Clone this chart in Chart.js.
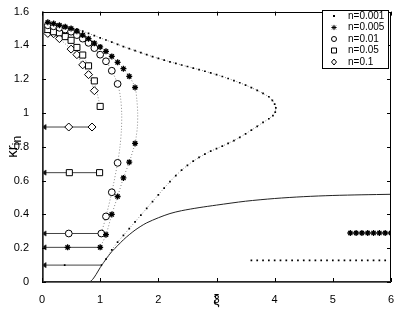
<!DOCTYPE html>
<html>
<head>
<meta charset="utf-8">
<script src="https://cdn.jsdelivr.net/npm/chart.js@4.4.1/dist/chart.umd.min.js"></script>
<style>
  html, body { margin: 0; padding: 0; background: #fff; }
  #wrap { width: 399px; height: 311px; position: relative; }
</style>
</head>
<body>
<div id="wrap"><canvas id="plot"></canvas></div>
<script>
// axis ticks
const xiTicks = [0, 1, 2, 3, 4, 5, 6];
const krTicks = [0, 0.2, 0.4, 0.6, 0.8, 1, 1.2, 1.4, 1.6];
const seriesNames = ['n=0.001', 'n=0.005', 'n=0.01', 'n=0.05', 'n=0.1'];

// n=0.001 : upper branch, nose and lower branch (dots)
const n001Xi = [0.1, 0.2, 0.3, 0.4, 0.5, 0.6, 0.7, 0.8, 0.9, 1.0, 1.1, 1.2, 1.3, 1.4, 1.5, 1.6, 1.7, 1.8, 1.9, 2.0,
  2.1, 2.2, 2.3, 2.4, 2.5, 2.6, 2.7, 2.8, 2.9, 3.0, 3.1, 3.2, 3.3, 3.4, 3.5, 3.6, 3.7, 3.8, 3.9, 3.96, 4.0, 4.02,
  4.01, 3.97, 3.9, 3.8, 3.7, 3.6, 3.5, 3.4, 3.3, 3.2, 3.1, 3.0, 2.9, 2.8, 2.7, 2.6, 2.5, 2.4, 2.3, 2.2, 2.1, 2.0,
  1.9, 1.8, 1.7, 1.6, 1.5, 1.4, 1.3, 1.2, 1.1, 1.02];
const n001Kr = [1.540, 1.533, 1.526, 1.517, 1.507, 1.496, 1.484, 1.471, 1.458, 1.445, 1.432, 1.419, 1.406, 1.393, 1.381, 1.369, 1.357, 1.345, 1.334, 1.323,
  1.313, 1.303, 1.294, 1.284, 1.275, 1.266, 1.257, 1.247, 1.237, 1.227, 1.216, 1.204, 1.192, 1.179, 1.165, 1.150, 1.134, 1.116, 1.096, 1.075, 1.052, 1.030,
  1.005, 0.985, 0.966, 0.944, 0.921, 0.899, 0.877, 0.856, 0.837, 0.820, 0.804, 0.789, 0.774, 0.757, 0.737, 0.715, 0.690, 0.662, 0.630, 0.594, 0.556, 0.516,
  0.476, 0.436, 0.396, 0.356, 0.316, 0.276, 0.236, 0.19, 0.135, 0.100];
const n001TailXi = [3.6, 3.7, 3.8, 3.9, 4.0, 4.1, 4.2, 4.3, 4.4, 4.5, 4.6, 4.7, 4.8, 4.9, 5.0, 5.1, 5.2, 5.3, 5.4, 5.5, 5.6, 5.7, 5.8, 5.9, 6.0];
const n001TailKr = [0.128, 0.128, 0.128, 0.128, 0.128, 0.128, 0.128, 0.128, 0.128, 0.128, 0.128, 0.128, 0.128, 0.128, 0.128, 0.128, 0.128, 0.128, 0.128, 0.128, 0.128, 0.128, 0.128, 0.128, 0.128];

// n=0.005 (asterisks)
const n005UpXi = [0.1, 0.2, 0.3, 0.4, 0.5, 0.6, 0.7, 0.8, 0.9, 1.0, 1.1, 1.2, 1.3, 1.4, 1.5, 1.6];
const n005UpKr = [1.537, 1.529, 1.519, 1.510, 1.500, 1.484, 1.461, 1.440, 1.413, 1.391, 1.365, 1.335, 1.300, 1.262, 1.217, 1.151];
const n005NoseXi = [1.63, 1.645, 1.64, 1.62];
const n005NoseKr = [1.08, 1.0, 0.92, 0.86];
const n005LowXi = [1.6, 1.5, 1.4, 1.3, 1.2, 1.1];
const n005LowKr = [0.82, 0.709, 0.616, 0.506, 0.40, 0.28];
const n005TailXi = [5.3, 5.4, 5.5, 5.6, 5.7, 5.8, 5.9, 6.0];
const n005TailKr = [0.29, 0.29, 0.29, 0.29, 0.29, 0.29, 0.29, 0.29];

// n=0.01 (circles)
const n01UpXi = [0.1, 0.2, 0.3, 0.4, 0.5, 0.6, 0.7, 0.8, 0.9, 1.0, 1.1, 1.2, 1.3];
const n01UpKr = [1.519, 1.513, 1.504, 1.494, 1.481, 1.461, 1.440, 1.415, 1.384, 1.345, 1.306, 1.250, 1.172];
const n01NoseXi = [1.35, 1.37, 1.365, 1.34];
const n01NoseKr = [1.09, 1.0, 0.9, 0.8];
const n01LowXi = [1.3, 1.2, 1.1];
const n01LowKr = [0.705, 0.531, 0.388];

// n=0.05 (squares)
const n05Xi = [0.1, 0.2, 0.3, 0.4, 0.5, 0.6, 0.7, 0.8, 0.9, 1.0];
const n05Kr = [1.494, 1.481, 1.475, 1.452, 1.430, 1.388, 1.343, 1.279, 1.190, 1.039];

// n=0.1 (diamonds)
const n1Xi = [0.1, 0.2, 0.3, 0.5, 0.6, 0.7, 0.8, 0.9];
const n1Kr = [1.471, 1.469, 1.440, 1.378, 1.345, 1.285, 1.227, 1.132];

// horizontal arrows back to xi=0: level, marker positions (mid, end)
const arrowKr = [0.100, 0.205, 0.287, 0.647, 0.917];
const arrowMidXi = [0.39, 0.44, 0.46, 0.47, 0.46];
const arrowEndXi = [1.0, 1.0, 1.02, 0.99, 0.86];

// solid curve
const solidXi = [0.82, 0.87, 0.93, 1.0, 1.1, 1.2, 1.3, 1.4, 1.5, 1.6, 1.7, 1.8, 2.0, 2.2, 2.4, 2.7, 3.0, 3.5, 4.0, 4.5, 5.0, 5.5, 6.0];
const solidKr = [0, 0.015, 0.045, 0.085, 0.135, 0.18, 0.215, 0.25, 0.28, 0.307, 0.33, 0.35, 0.38, 0.405, 0.422, 0.44, 0.455, 0.478, 0.494, 0.505, 0.512, 0.516, 0.519];

function pts(xs, ys) { return xs.map((x, i) => ({ x: x, y: ys[i] })); }

const DOT = '#8a8a8a';
const datasets = [];

datasets.push({ data: pts(solidXi, solidKr), showLine: true, borderColor: '#222', borderWidth: 1, pointRadius: 0, tension: 0.3, order: 5 });

// dotted curves
datasets.push({ data: pts(n001Xi, n001Kr), showLine: true, borderColor: DOT, borderWidth: 1, borderDash: [1, 2],
  pointStyle: 'rect', pointRadius: 1.2, pointBackgroundColor: '#000', pointBorderWidth: 0, order: 4 });
datasets.push({ data: pts(n005UpXi.concat(n005NoseXi, n005LowXi, [arrowEndXi[1]]), n005UpKr.concat(n005NoseKr, n005LowKr, [arrowKr[1]])),
  showLine: true, borderColor: DOT, borderWidth: 1, borderDash: [1, 2], pointRadius: 0, tension: 0.3, order: 4 });
datasets.push({ data: pts(n01UpXi.concat(n01NoseXi, n01LowXi, [arrowEndXi[2]]), n01UpKr.concat(n01NoseKr, n01LowKr, [arrowKr[2]])),
  showLine: true, borderColor: DOT, borderWidth: 1, borderDash: [1, 2], pointRadius: 0, tension: 0.3, order: 4 });
datasets.push({ data: pts(n05Xi, n05Kr), showLine: true, borderColor: DOT, borderWidth: 1, borderDash: [1, 2], pointRadius: 0, order: 4 });
datasets.push({ data: pts(n1Xi, n1Kr), showLine: true, borderColor: DOT, borderWidth: 1, borderDash: [1, 2], pointRadius: 0, order: 4 });

// arrows
arrowKr.forEach((k, i) => {
  datasets.push({ data: [{ x: arrowEndXi[i], y: k }, { x: 0, y: k }], showLine: true, borderColor: '#444', borderWidth: 1, pointRadius: 0, order: 3 });
});
datasets.push({ data: arrowKr.map(k => ({ x: 0.045, y: k })), pointStyle: 'triangle', rotation: 270, pointRadius: 3,
  pointBackgroundColor: '#111', pointBorderColor: '#111', pointBorderWidth: 0.5, order: 2 });

// markers
datasets.push({ data: pts([arrowMidXi[0]].concat(n001TailXi), [arrowKr[0]].concat(n001TailKr)), pointStyle: 'rect', pointRadius: 1.2,
  pointBackgroundColor: '#000', pointBorderWidth: 0, order: 1 });
datasets.push({ data: pts(n005UpXi.concat(n005LowXi, [arrowMidXi[1], arrowEndXi[1]], n005TailXi),
  n005UpKr.concat(n005LowKr, [arrowKr[1], arrowKr[1]], n005TailKr)),
  pointStyle: 'star', pointRadius: 3, pointBorderColor: '#000', pointBorderWidth: 1.3, order: 1 });
datasets.push({ data: pts(n01UpXi.concat(n01LowXi, [arrowMidXi[2], arrowEndXi[2]]), n01UpKr.concat(n01LowKr, [arrowKr[2], arrowKr[2]])),
  pointStyle: 'circle', pointRadius: 3.4, pointBackgroundColor: '#fff', pointBorderColor: '#000', pointBorderWidth: 1, order: 1 });
datasets.push({ data: pts(n05Xi.concat([arrowMidXi[3], arrowEndXi[3]]), n05Kr.concat([arrowKr[3], arrowKr[3]])),
  pointStyle: 'rect', pointRadius: 4.3, pointBackgroundColor: '#fff', pointBorderColor: '#000', pointBorderWidth: 1, order: 1 });
datasets.push({ data: pts(n1Xi.concat([arrowMidXi[4], arrowEndXi[4]]), n1Kr.concat([arrowKr[4], arrowKr[4]])),
  pointStyle: 'rectRot', pointRadius: 4, pointBackgroundColor: '#fff', pointBorderColor: '#000', pointBorderWidth: 1, order: 1 });

const FONT = '"Liberation Sans", Arial, sans-serif';

function marker(ctx, style, x, y) {
  ctx.save();
  ctx.strokeStyle = '#000'; ctx.fillStyle = '#000'; ctx.lineWidth = 1;
  ctx.beginPath();
  if (style === 0) { ctx.fillRect(x - 1, y - 1, 2, 2); }
  else if (style === 1) {
    const r = 2.6;
    for (let a = 0; a < 4; a++) {
      const t = a * Math.PI / 4;
      ctx.moveTo(x - Math.cos(t) * r, y - Math.sin(t) * r);
      ctx.lineTo(x + Math.cos(t) * r, y + Math.sin(t) * r);
    }
    ctx.stroke();
  } else if (style === 2) { ctx.arc(x, y, 2.5, 0, Math.PI * 2); ctx.stroke(); }
  else if (style === 3) { ctx.rect(x - 2.5, y - 2.5, 5, 5); ctx.stroke(); }
  else { ctx.moveTo(x, y - 3); ctx.lineTo(x + 2.5, y); ctx.lineTo(x, y + 3); ctx.lineTo(x - 2.5, y); ctx.closePath(); ctx.stroke(); }
  ctx.restore();
}

const framePlugin = {
  id: 'frame',
  afterDraw(chart) {
    const ctx = chart.ctx, a = chart.chartArea;
    const sx = chart.scales.x, sy = chart.scales.y;
    ctx.save();
    ctx.setTransform(1, 0, 0, 1, 0, 0);
    ctx.strokeStyle = '#000'; ctx.lineWidth = 1;
    ctx.strokeRect(Math.round(a.left) + 0.5, Math.round(a.top) + 0.5, Math.round(a.right - a.left) - 1, Math.round(a.bottom - a.top) - 1);
    // heavier left and bottom axes
    ctx.beginPath();
    ctx.moveTo(a.left, a.bottom); ctx.lineTo(a.right, a.bottom);
    ctx.moveTo(a.left + 1, a.top); ctx.lineTo(a.left + 1, a.bottom);
    ctx.lineWidth = 1.5; ctx.strokeStyle = '#333';
    ctx.stroke();
    ctx.lineWidth = 1; ctx.strokeStyle = '#000';
    ctx.beginPath();
    xiTicks.forEach(v => {
      const px = Math.round(sx.getPixelForValue(v)) + 0.5;
      ctx.moveTo(px, a.bottom); ctx.lineTo(px, a.bottom - 4);
      ctx.moveTo(px, a.top); ctx.lineTo(px, a.top + 4);
    });
    krTicks.forEach(v => {
      const py = Math.round(sy.getPixelForValue(v)) + 0.5;
      ctx.moveTo(a.left, py); ctx.lineTo(a.left + 4, py);
      ctx.moveTo(a.right, py); ctx.lineTo(a.right - 4, py);
    });
    ctx.stroke();

    // axis titles
    ctx.fillStyle = '#000';
    ctx.font = '14px ' + FONT;
    ctx.textAlign = 'center'; ctx.textBaseline = 'middle';
    ctx.fillText('ξ', (a.left + a.right) / 2, 301);

    // y title: κr with subscript "in", rotated
    const cy = (a.top + a.bottom) / 2;
    ctx.font = '15px ' + FONT;
    const w1 = ctx.measureText('κr').width;
    ctx.font = '12px ' + FONT;
    const w2 = ctx.measureText('in').width;
    const start = -(w1 + w2) / 2;
    ctx.setTransform(0, -1, 1, 0, 17, cy);
    ctx.textAlign = 'left'; ctx.textBaseline = 'alphabetic';
    ctx.font = '15px ' + FONT;
    ctx.fillText('κr', start, 0);
    ctx.font = '12px ' + FONT;
    ctx.fillText('in', start + w1, 4);
    ctx.setTransform(1, 0, 0, 1, 0, 0);

    // legend
    const lx = 322, ly = 10, lw = 66, lh = 58;
    ctx.fillStyle = '#fff';
    ctx.fillRect(lx, ly, lw, lh);
    ctx.strokeStyle = '#000';
    ctx.strokeRect(lx + 0.5, ly + 0.5, lw, lh);
    ctx.font = '10px ' + FONT;
    ctx.textAlign = 'left'; ctx.textBaseline = 'middle';
    seriesNames.forEach((name, i) => {
      const y = 16 + i * 11.5;
      marker(ctx, i, 334, y);
      ctx.fillStyle = '#000';
      ctx.fillText(name, 348, y);
    });
    ctx.restore();
  }
};

new Chart(document.getElementById('plot'), {
  type: 'scatter',
  data: { datasets: datasets },
  options: {
    responsive: true,
    maintainAspectRatio: false,
    animation: false,
    events: [],
    layout: { padding: { top: 7, right: 8, left: 0, bottom: 0 } },
    plugins: { legend: { display: false }, tooltip: { enabled: false } },
    scales: {
      x: {
        type: 'linear', min: 0, max: 6,
        afterBuildTicks: s => { s.ticks = xiTicks.map(v => ({ value: v })); },
        afterFit: s => { s.height = 29; },
        grid: { display: false }, border: { display: false },
        ticks: { color: '#000', font: { family: FONT, size: 11 }, padding: 3, maxRotation: 0 }
      },
      y: {
        type: 'linear', min: 0, max: 1.6,
        afterBuildTicks: s => { s.ticks = krTicks.map(v => ({ value: v })); },
        afterFit: s => { s.width = 42; },
        grid: { display: false }, border: { display: false },
        ticks: { color: '#000', font: { family: FONT, size: 11 }, padding: 5, callback: v => String(+Number(v).toFixed(1)) }
      }
    }
  },
  plugins: [framePlugin]
});
</script>
</body>
</html>
